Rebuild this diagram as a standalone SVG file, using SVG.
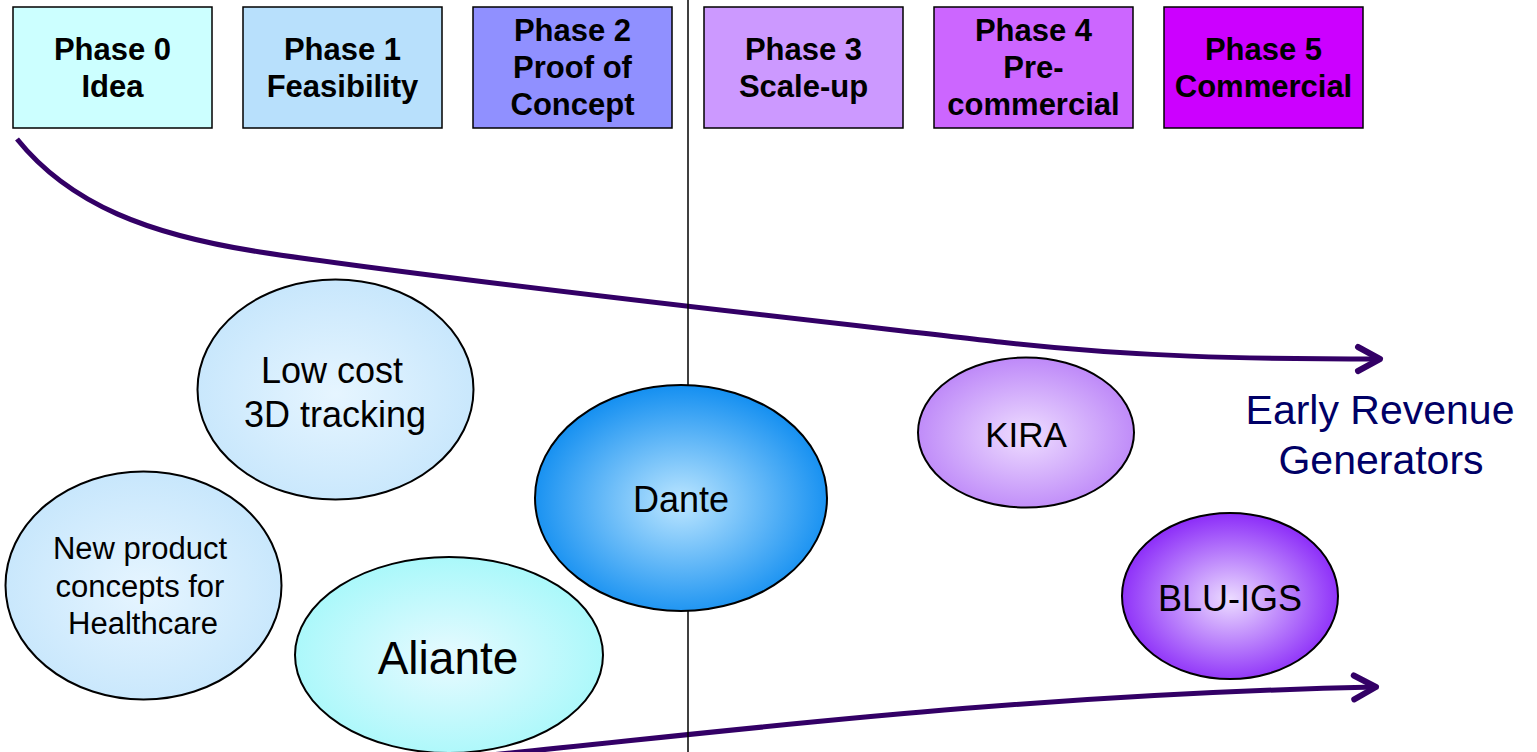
<svg xmlns="http://www.w3.org/2000/svg" width="1537" height="752" viewBox="0 0 1537 752">
<style>
.box{stroke:#000;stroke-width:1.5}
.pt{font-family:"Liberation Sans",Arial,sans-serif;font-weight:bold;font-size:31px;fill:#000;text-anchor:middle}
.el{stroke:#000;stroke-width:2}
.et{font-family:"Liberation Sans",Arial,sans-serif;fill:#000;text-anchor:middle}
.arr{fill:none;stroke:#330066;stroke-width:5}
.lbl{font-family:"Liberation Sans",Arial,sans-serif;font-size:41px;fill:#000066;text-anchor:middle}
</style>
<defs>
<marker id="chev" markerUnits="userSpaceOnUse" markerWidth="40" markerHeight="40" viewBox="-30 -20 40 40" refX="0" refY="0" orient="auto">
<path d="M-22,-12 L0,0 L-22,12" fill="none" stroke="#330066" stroke-width="6" stroke-linecap="round" stroke-linejoin="round"/>
</marker>
<radialGradient id="gLight" cx="50%" cy="52%" r="55%">
<stop offset="0" stop-color="#E6F5FF"/><stop offset="1" stop-color="#C6E6FC"/>
</radialGradient>
<radialGradient id="gAli" cx="50%" cy="52%" r="55%">
<stop offset="0" stop-color="#E8FAFF"/><stop offset="1" stop-color="#A6F8FA"/>
</radialGradient>
<radialGradient id="gDante" cx="50%" cy="52%" r="55%">
<stop offset="0" stop-color="#BCE6FF"/><stop offset="1" stop-color="#0A8AF0"/>
</radialGradient>
<radialGradient id="gKira" cx="50%" cy="52%" r="55%">
<stop offset="0" stop-color="#EEDDFF"/><stop offset="1" stop-color="#BB84F8"/>
</radialGradient>
<radialGradient id="gBlu" cx="50%" cy="52%" r="55%">
<stop offset="0" stop-color="#ECDCFF"/><stop offset="1" stop-color="#8622F8"/>
</radialGradient>
</defs>
<rect width="1537" height="752" fill="#fff"/>

<g id="phase0"><rect class="box" x="13" y="7" width="199" height="121" fill="#CCFFFF"/>
<text class="pt" x="112.5" y="59.5">Phase 0</text><text class="pt" x="112.5" y="96.5">Idea</text></g>
<g id="phase1"><rect class="box" x="243" y="7" width="199" height="121" fill="#B8E0FC"/>
<text class="pt" x="342.5" y="59.5">Phase 1</text><text class="pt" x="342.5" y="96.5">Feasibility</text></g>
<g id="phase2"><rect class="box" x="473" y="7" width="199" height="121" fill="#9090FF"/>
<text class="pt" x="572.5" y="41">Phase 2</text><text class="pt" x="572.5" y="78">Proof of</text><text class="pt" x="572.5" y="115">Concept</text></g>
<g id="phase3"><rect class="box" x="704" y="7" width="199" height="121" fill="#CC99FF"/>
<text class="pt" x="803.5" y="59.5">Phase 3</text><text class="pt" x="803.5" y="96.5">Scale-up</text></g>
<g id="phase4"><rect class="box" x="934" y="7" width="199" height="121" fill="#CC66FF"/>
<text class="pt" x="1033.5" y="41">Phase 4</text><text class="pt" x="1033.5" y="78">Pre-</text><text class="pt" x="1033.5" y="115">commercial</text></g>
<g id="phase5"><rect class="box" x="1164" y="7" width="199" height="121" fill="#CC00FF"/>
<text class="pt" x="1263.5" y="59.5">Phase 5</text><text class="pt" x="1263.5" y="96.5">Commercial</text></g>

<g id="connectors">
<path class="arr" marker-end="url(#chev)" d="M17,139 C70,205 150,235 260,252 C480,285 900,330 1000,342 C1130,357 1250,359 1380,359"/>
<path class="arr" marker-end="url(#chev)" d="M480,756 C700,735 1000,695 1376,687"/>
<line x1="688" y1="0" x2="688" y2="752" stroke="#000" stroke-width="1.5"/>
</g>

<g id="lowcost"><ellipse class="el" cx="335.5" cy="389.5" rx="138" ry="110" fill="url(#gLight)"/>
<text class="et" font-size="36" x="332" y="383">Low cost</text><text class="et" font-size="36" x="335" y="427">3D tracking</text></g>
<g id="newproduct"><ellipse class="el" cx="143.5" cy="585.5" rx="138" ry="114" fill="url(#gLight)"/>
<text class="et" font-size="31" x="140" y="559">New product</text><text class="et" font-size="31" x="140" y="597">concepts for</text><text class="et" font-size="31" x="143" y="634">Healthcare</text></g>
<g id="aliante"><ellipse class="el" cx="449" cy="655" rx="154" ry="98" fill="url(#gAli)"/>
<text class="et" font-size="46" x="448" y="674">Aliante</text></g>
<g id="dante"><ellipse class="el" cx="681" cy="498" rx="146" ry="113" fill="url(#gDante)"/>
<text class="et" font-size="36" x="681" y="512">Dante</text></g>
<g id="kira"><ellipse class="el" cx="1026" cy="432.5" rx="108" ry="75" fill="url(#gKira)"/>
<text class="et" font-size="35" x="1026" y="447">KIRA</text></g>
<g id="bluigs"><ellipse class="el" cx="1230" cy="596" rx="108" ry="83" fill="url(#gBlu)"/>
<text class="et" font-size="36" x="1230" y="611">BLU-IGS</text></g>

<g id="label">
<text class="lbl" x="1380" y="424">Early Revenue</text>
<text class="lbl" x="1381" y="474">Generators</text>
</g>
</svg>
